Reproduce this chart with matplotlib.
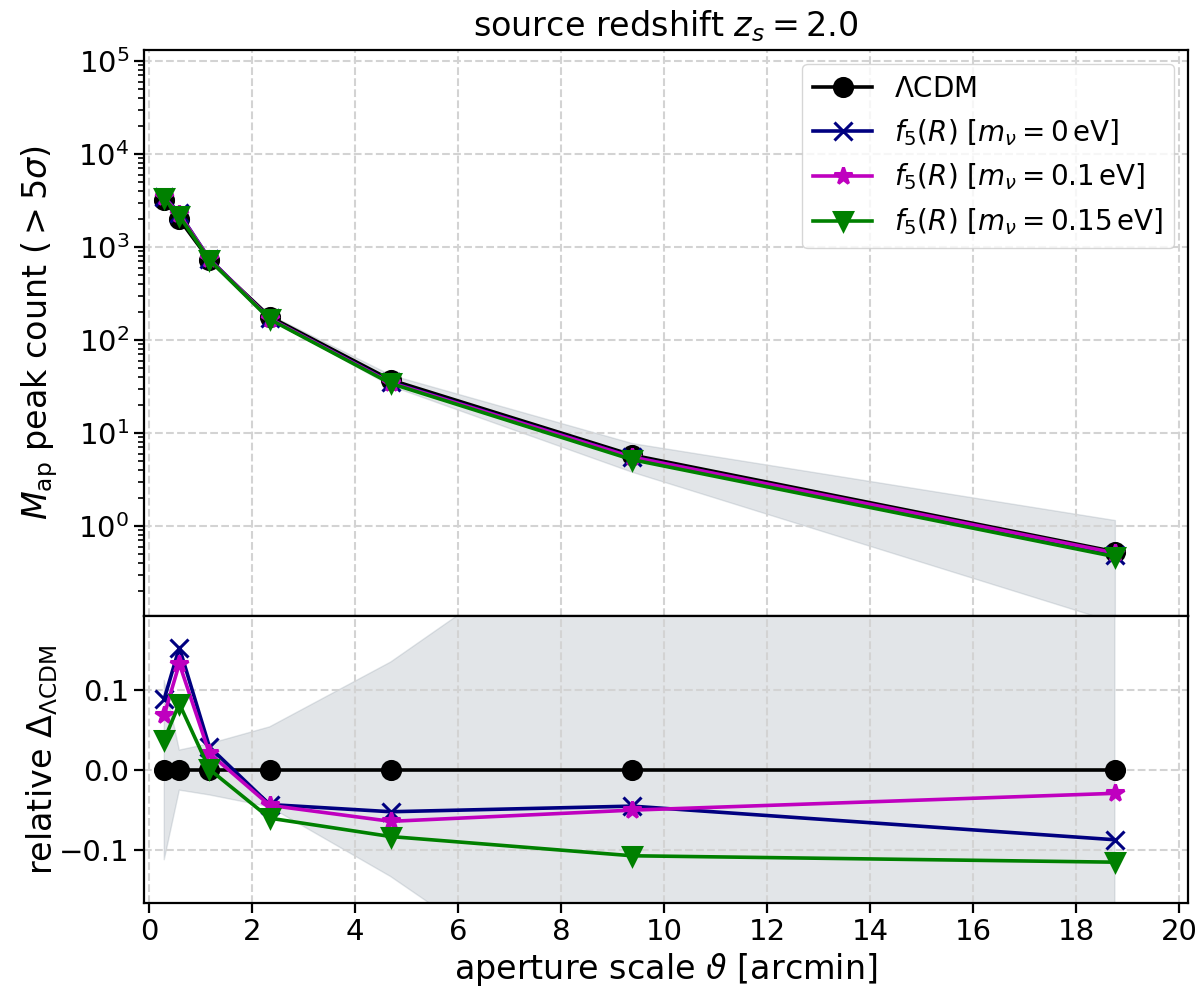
import matplotlib

matplotlib.use("Agg")
import matplotlib.pyplot as plt
import numpy as np

# aperture scales [arcmin]
theta = [0.293, 0.586, 1.17, 2.34, 4.69, 9.375, 18.75]

# LCDM peak counts (> 5 sigma)
lcdm_counts = [3200, 1990, 724, 178, 37.2, 5.8, 0.53]

# relative deviation from LCDM for each f5(R) model
rel_f5_0 = [0.089, 0.153, 0.029, -0.043, -0.052, -0.045, -0.087]
rel_f5_01 = [0.069, 0.133, 0.021, -0.044, -0.064, -0.050, -0.029]
rel_f5_015 = [0.038, 0.083, 0.001, -0.060, -0.083, -0.107, -0.115]

# relative scatter band of LCDM
band_hi = [0.112, 0.025, 0.033, 0.054, 0.135, 0.345, 1.19]
band_lo = [-0.112, -0.025, -0.031, -0.046, -0.133, -0.34, -0.825]

MODELS = [
    (rel_f5_0, "navy", "x", r"$f_5(R)$ $[m_\nu = 0\,\mathrm{eV}]$"),
    (rel_f5_01, "m", "*", r"$f_5(R)$ $[m_\nu = 0.1\,\mathrm{eV}]$"),
    (rel_f5_015, "g", "v", r"$f_5(R)$ $[m_\nu = 0.15\,\mathrm{eV}]$"),
]

FS = 24
TFS = 21
plt.rcParams.update({
    "font.size": FS,
    "axes.linewidth": 1.6,
    "xtick.major.width": 1.6, "ytick.major.width": 1.6,
    "xtick.major.size": 7, "ytick.major.size": 7,
    "ytick.minor.width": 1.2, "ytick.minor.size": 4,
})

x = np.array(theta)
lc = np.array(lcdm_counts)
hi = np.array(band_hi)
lo = np.array(band_lo)

fig = plt.figure(figsize=(12, 10), dpi=100)
gs = fig.add_gridspec(2, 1, height_ratios=[566, 287], hspace=0,
                      left=0.12, right=0.99, top=0.95, bottom=0.097)
ax_t = fig.add_subplot(gs[0])
ax_b = fig.add_subplot(gs[1], sharex=ax_t)

grid_kw = dict(color="lightgrey", linestyle="--", linewidth=1.5)
line_kw = dict(linewidth=2.6, markersize=13, markeredgewidth=2.2)

# top: absolute peak counts
ax_t.fill_between(x, lc * (1 + lo), lc * (1 + hi), color="slategray", alpha=0.2)
ax_t.plot(x, lc, color="k", marker="o", label=r"$\Lambda$CDM", **line_kw)
for rel, c, mk, lab in MODELS:
    ax_t.plot(x, lc * (1 + np.array(rel)), color=c, marker=mk, label=lab, **line_kw)
ax_t.set_yscale("log")
ax_t.set_ylim(0.108, 1.31e5)
ax_t.set_yticks([1, 10, 100, 1e3, 1e4, 1e5])
ax_t.set_ylabel(r"$M_{\rm ap}$ peak count $(>5\sigma)$", fontsize=FS, labelpad=-1)
ax_t.set_title(r"source redshift $z_s = 2.0$", fontsize=FS, pad=10)
ax_t.grid(True, **grid_kw)
ax_t.tick_params(labelbottom=False, labelsize=TFS)
ax_t.legend(loc="upper right", fontsize=20, handlelength=2.1)

# bottom: relative difference to LCDM
ax_b.fill_between(x, lo, hi, color="slategray", alpha=0.2)
ax_b.plot(x, np.zeros_like(x), color="k", marker="o", **line_kw)
for rel, c, mk, lab in MODELS:
    ax_b.plot(x, rel, color=c, marker=mk, **line_kw)
ax_b.set_ylim(-0.166, 0.1925)
ax_b.set_yticks([-0.1, 0.0, 0.1])
ax_b.set_xlim(-0.1, 20.17)
ax_b.set_xticks(np.arange(0, 21, 2))
ax_b.set_ylabel(r"relative $\Delta_{\Lambda{\rm CDM}}$", fontsize=FS, labelpad=-1)
ax_b.set_xlabel(r"aperture scale $\vartheta$ [arcmin]", fontsize=FS)
ax_b.grid(True, **grid_kw)
ax_b.tick_params(labelsize=TFS)

fig.align_ylabels([ax_t, ax_b])
fig.savefig("out.png", dpi=100)
